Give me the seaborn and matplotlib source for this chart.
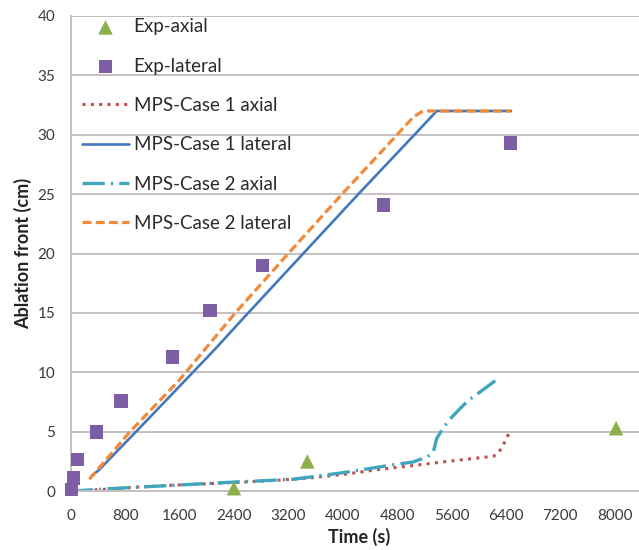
import numpy as np
import pandas as pd
import matplotlib
matplotlib.use('Agg')
import matplotlib.pyplot as plt
import seaborn as sns
from matplotlib.ticker import MultipleLocator

# experimental points
exp_axial_t = [2400, 3480, 8020]
exp_axial_y = [0.25, 2.5, 5.3]
exp_lat_t = [15, 40, 100, 380, 740, 1500, 2050, 2820, 4600, 6470]
exp_lat_y = [0.15, 1.1, 2.65, 5.0, 7.6, 11.3, 15.2, 19.0, 24.1, 29.3]

# MPS case 1
c1_axial_t = [350, 1000, 1500, 2000, 2500, 3000, 3500, 4000, 4500, 5000, 5500, 6000, 6215, 6290, 6380, 6460]
c1_axial_y = [0.1, 0.35, 0.5, 0.62, 0.75, 0.9, 1.1, 1.4, 1.8, 2.13, 2.48, 2.8, 2.94, 3.2, 4.1, 5.05]
c1_lat_t = [310, 410, 960, 1680, 2130, 2610, 3420, 4230, 5055, 5382, 6475]
c1_lat_y = [1.3, 1.75, 5.0, 9.3, 12.0, 15.0, 20.0, 25.0, 30.0, 32.0, 32.0]

# MPS case 2
c2_axial_t = [0, 500, 1070, 1600, 2290, 2800, 3270, 3620, 4000, 4700, 5040, 5250, 5333, 5382,
              5480, 5600, 5725, 5850, 6020, 6150, 6290]
c2_axial_y = [0, 0.18, 0.36, 0.52, 0.73, 0.87, 1.0, 1.26, 1.55, 2.18, 2.46, 2.9, 3.3, 4.43,
              5.35, 6.2, 6.95, 7.65, 8.35, 8.9, 9.5]
c2_lat_t = [275, 872, 1590, 2420, 3200, 3990, 4800, 5039, 5150, 5210, 6475]
c2_lat_y = [1.0, 5.0, 9.3, 15.0, 20.0, 25.0, 30.0, 31.5, 31.9, 32.0, 32.0]

sns.set_style('white')
plt.rcParams['font.family'] = ['Lato', 'DejaVu Sans']
plt.rcParams['lines.scale_dashes'] = False

fig = plt.figure(figsize=(6.39, 5.5), dpi=100)
ax = fig.add_axes([0.1106, 0.107, 0.8894, 0.864])

sns.lineplot(x=c1_axial_t, y=c1_axial_y, sort=False, estimator=None, ax=ax,
             color='#C0504D', lw=2.2, linestyle=(0, (2.2, 3.8)), label='MPS-Case 1 axial')
sns.lineplot(x=c1_lat_t, y=c1_lat_y, sort=False, estimator=None, ax=ax,
             color='#4478BD', lw=1.9, label='MPS-Case 1 lateral')
sns.lineplot(x=c2_axial_t, y=c2_axial_y, sort=False, estimator=None, ax=ax,
             color='#3FA6BE', lw=2.4, linestyle=(0, (16, 4.5, 1.5, 4.5)), label='MPS-Case 2 axial')
sns.lineplot(x=c2_lat_t, y=c2_lat_y, sort=False, estimator=None, ax=ax,
             color='#F08A3C', lw=2.3, linestyle=(0, (6.5, 3)), label='MPS-Case 2 lateral')

sns.scatterplot(x=exp_axial_t, y=exp_axial_y, marker='^', s=110, color='#8CB04A',
                edgecolor='none', ax=ax, zorder=3, clip_on=False, label='Exp-axial')
sns.scatterplot(x=exp_lat_t, y=exp_lat_y, marker='s', s=95, color='#7D5EA5',
                edgecolor='none', ax=ax, zorder=3, clip_on=False, label='Exp-lateral')

ax.set_xlim(0, 8357)
ax.set_ylim(0, 40)
ax.xaxis.set_major_locator(MultipleLocator(800))
ax.xaxis.set_minor_locator(MultipleLocator(160))
ax.yaxis.set_major_locator(MultipleLocator(5))

grid_col = '#C6BFBF'
ax.yaxis.grid(True, color=grid_col, lw=1.4)
ax.xaxis.grid(False)
ax.set_axisbelow(True)
for side in ['top', 'right']:
    ax.spines[side].set_visible(False)
for side in ['left', 'bottom']:
    ax.spines[side].set_color(grid_col)
    ax.spines[side].set_linewidth(1.4)

ax.tick_params(axis='x', which='major', direction='inout', length=7.2, width=1.0,
               color='#A9A3A3', pad=9, labelsize=11, labelcolor='#3A3A3A')
ax.tick_params(axis='x', which='minor', direction='inout', length=4.3, width=0.8,
               color='#B5AFAF')
ax.tick_params(axis='y', length=0, pad=11, labelsize=11, labelcolor='#3A3A3A')

ax.set_xlabel('Time (s)', fontsize=13, fontweight='bold', color='#222222')
ax.set_ylabel('Ablation front (cm)', fontsize=13, fontweight='bold', color='#222222')
ax.xaxis.set_label_coords(0.507, -0.097)
ax.xaxis.label.set_va('center')
ax.yaxis.set_label_coords(-0.083, 0.5)
ax.yaxis.label.set_va('center')

handles, labels = ax.get_legend_handles_labels()
lookup = dict(zip(labels, handles))
order = ['Exp-axial', 'Exp-lateral', 'MPS-Case 1 axial', 'MPS-Case 1 lateral',
         'MPS-Case 2 axial', 'MPS-Case 2 lateral']
leg = ax.legend([lookup[k] for k in order], order, loc='upper left',
                bbox_to_anchor=(0.02, 0.995), frameon=False, fontsize=13.5,
                handlelength=2.5, handletextpad=0.25, labelspacing=1.19,
                borderpad=0, borderaxespad=0, scatterpoints=1)
for t in leg.get_texts():
    t.set_color('#2A2A2A')

fig.savefig('out.png', dpi=100, facecolor='white')
